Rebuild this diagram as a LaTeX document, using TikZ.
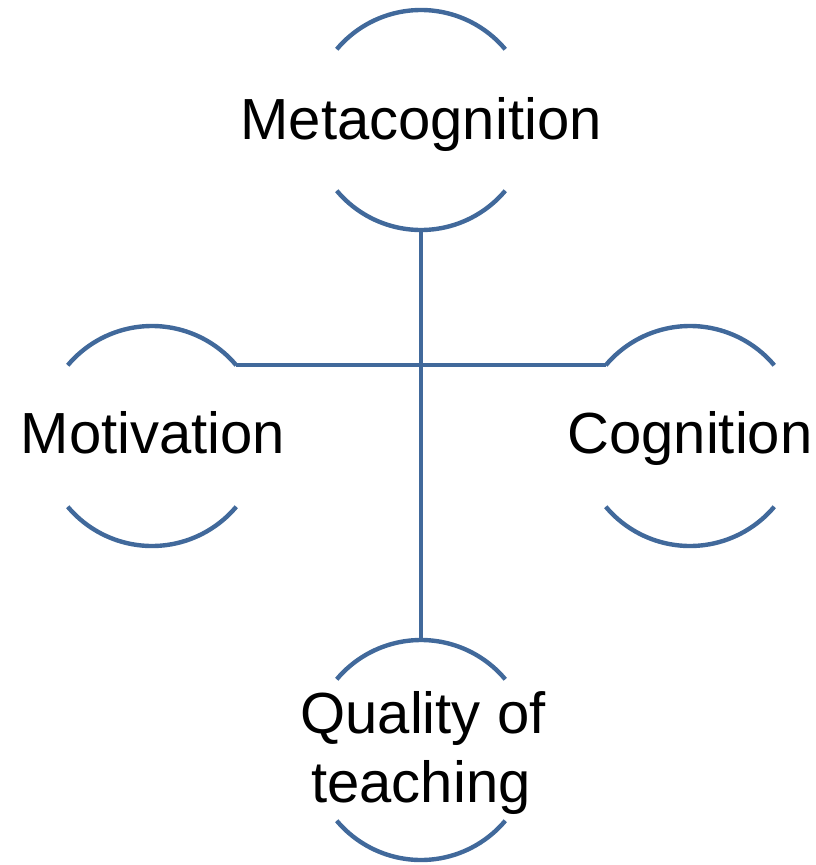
\documentclass[tikz,border=0pt]{standalone}
\usepackage{fontspec}
\setmainfont{Liberation Sans}
\definecolor{ringblue}{HTML}{41699B}
\begin{document}
\begin{tikzpicture}[x=1pt,y=-1pt,
  ring/.style={circle,minimum size=220pt,inner sep=0pt,outer sep=0pt},
  arcline/.style={draw=ringblue,line width=4.4pt},
  label/.style={font=\fontsize{58}{69}\selectfont,text=black,anchor=base,inner sep=0pt,align=center}]
\useasboundingbox (0,0) rectangle (815,865);
\node[ring] (meta) at (421,120) {};
\node[ring] (mot) at (152,436) {};
\node[ring] (cog) at (690,436) {};
\node[ring] (qual) at (421,750) {};
\foreach \n in {meta,mot,cog,qual}{
  \draw[arcline] (\n.40) arc[start angle=40,end angle=140,radius=110pt];
  \draw[arcline] (\n.220) arc[start angle=220,end angle=320,radius=110pt];
}
\draw[arcline] (meta.south) -- (qual.north);
\draw[arcline] (mot.40) -- (cog.140);
\node[label] (tmeta) at (421,139) {Metacognition};
\node[label] (tmot) at (153,453) {Motivation};
\node[label] (tcog) at (690,453) {Cognition};
\node[label] (tqual1) at (423,733) {Quality of};
\node[label] (tqual2) at (421,802) {teaching};
\end{tikzpicture}
\end{document}
